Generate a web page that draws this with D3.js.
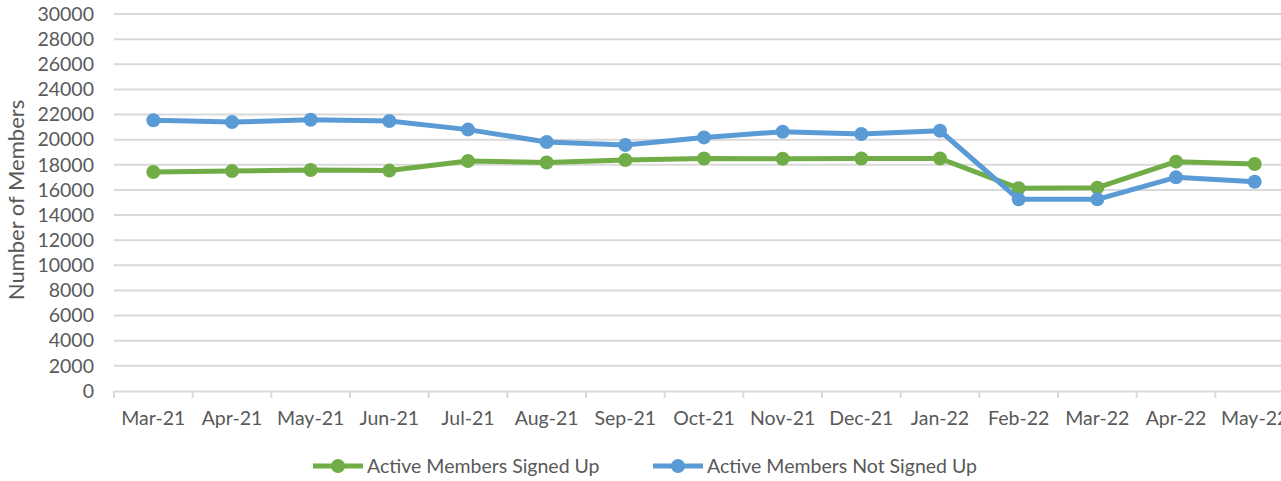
<!DOCTYPE html>
<html>
<head>
<meta charset="utf-8">
<script src="https://cdn.jsdelivr.net/npm/d3@7"></script>
<style>
  body { margin: 0; background: #fff; }
  svg text { font-family: Lato, "Open Sans", sans-serif; fill: #595959; }
</style>
</head>
<body>
<svg id="chart" width="1281" height="481"></svg>
<script>
// data
var months = ["Mar-21", "Apr-21", "May-21", "Jun-21", "Jul-21", "Aug-21", "Sep-21", "Oct-21",
    "Nov-21", "Dec-21", "Jan-22", "Feb-22", "Mar-22", "Apr-22", "May-22"];
var signedUp = [17430, 17500, 17590, 17540, 18300, 18180, 18380, 18500,
    18480, 18500, 18500, 16130, 16180, 18250, 18060];
var notSignedUp = [21540, 21400, 21580, 21480, 20800, 19820, 19580, 20180,
    20630, 20450, 20710, 15250, 15250, 17000, 16650];
var yTicks = d3.range(0, 30001, 2000);

var seriesNames = ["Active Members Signed Up", "Active Members Not Signed Up"];
var seriesColors = ["#70AD47", "#5B9BD5"];

var plotLeft = 114, plotRight = 1294, plotTop = 14, plotBottom = 391;

var svg = d3.select("#chart");

var x = d3.scaleBand()
    .domain(months)
    .range([plotLeft, plotRight]);

var y = d3.scaleLinear()
    .domain([0, 30000])
    .range([plotBottom, plotTop]);

//Gridlines
svg.append("g")
    .selectAll("line")
    .data(yTicks.slice(1))
    .enter().append("line")
    .attr("x1", plotLeft)
    .attr("x2", plotRight)
    .attr("y1", function (d) { return y(d); })
    .attr("y2", function (d) { return y(d); })
    .style("stroke", "#d9d9d9")
    .style("stroke-width", 2);

//Y axis labels
var yAxis = svg.append("g")
    .attr("transform", "translate(" + plotLeft + ",0)")
    .call(d3.axisLeft(y).tickValues(yTicks).tickFormat(d3.format("d"))
        .tickSize(0).tickPadding(20));
yAxis.select(".domain").remove();
yAxis.selectAll("text")
    .style("font-size", "19.5px")
    .style("fill", "#595959");

//X axis
var xAxis = svg.append("g")
    .attr("transform", "translate(0," + plotBottom + ")")
    .call(d3.axisBottom(x).tickSize(0).tickPadding(20));
xAxis.select(".domain")
    .style("stroke", "#d9d9d9")
    .style("stroke-width", 2);
xAxis.selectAll("text")
    .style("font-size", "19.5px")
    .style("fill", "#595959");

//tick marks between categories
svg.append("g")
    .selectAll("line")
    .data(months.concat(["end"]))
    .enter().append("line")
    .attr("x1", function (d, i) { return plotLeft + i * x.step(); })
    .attr("x2", function (d, i) { return plotLeft + i * x.step(); })
    .attr("y1", plotBottom)
    .attr("y2", plotBottom + 7)
    .style("stroke", "#d9d9d9")
    .style("stroke-width", 2);

//axis title
svg.append("text")
    .attr("transform", "translate(24,200) rotate(-90)")
    .attr("text-anchor", "middle")
    .style("font-size", "22px")
    .text("Number of Members");

var line = d3.line()
    .x(function (d, i) { return x(months[i]) + x.bandwidth() / 2; })
    .y(function (d) { return y(d); });

[signedUp, notSignedUp].forEach(function (series, s) {
    var g = svg.append("g");
    g.append("path")
        .attr("d", line(series))
        .style("fill", "none")
        .style("stroke", seriesColors[s])
        .style("stroke-width", 5)
        .style("stroke-linejoin", "round");
    g.selectAll("circle")
        .data(series)
        .enter().append("circle")
        .attr("cx", function (d, i) { return x(months[i]) + x.bandwidth() / 2; })
        .attr("cy", function (d) { return y(d); })
        .attr("r", 7)
        .style("fill", seriesColors[s]);
});

//Legend
var legendX = [313, 653];
var legend = svg.append("g")
    .selectAll("g")
    .data(seriesNames)
    .enter().append("g")
    .attr("transform", function (d, i) { return "translate(" + legendX[i] + ",466)"; });
legend.append("line")
    .attr("x1", 0).attr("x2", 50)
    .style("stroke", function (d, i) { return seriesColors[i]; })
    .style("stroke-width", 5);
legend.append("circle")
    .attr("cx", 25)
    .attr("r", 7)
    .style("fill", function (d, i) { return seriesColors[i]; });
legend.append("text")
    .attr("x", 54)
    .attr("dy", "0.35em")
    .style("font-size", "19.5px")
    .text(function (d) { return d; });
</script>
</body>
</html>
